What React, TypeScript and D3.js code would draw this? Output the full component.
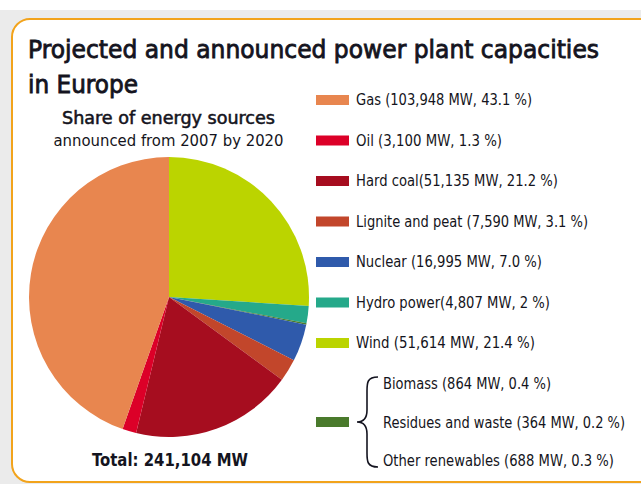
import React from "react";
import * as d3 from "d3";

// Slice order drawn clockwise from 12 o'clock
const sliceNames = ["Wind", "Hydro power", "Other renewables", "Nuclear", "Lignite and peat", "Hard coal", "Oil", "Gas"];
// Shares (%) as drawn in the reference pie
const sliceShares = [26.0, 2.0, 0.15, 4.3, 2.6, 18.7, 1.6, 44.6];
const sliceColors = ["#BBD400", "#25A98A", "#4A7A2C", "#2F5AAB", "#C2462B", "#A60D1F", "#DC0028", "#E8864F"];

// Legend
const legendNames = ["Gas", "Oil", "Hard coal", "Lignite and peat", "Nuclear", "Hydro power", "Wind"];
const legendLabels = [
  "Gas (103,948 MW, 43.1 %)",
  "Oil (3,100 MW, 1.3 %)",
  "Hard coal(51,135 MW, 21.2 %)",
  "Lignite and peat (7,590 MW, 3.1 %)",
  "Nuclear (16,995 MW, 7.0 %)",
  "Hydro power(4,807 MW, 2 %)",
  "Wind (51,614 MW, 21.4 %)",
];
const legendWidths = [176, 146, 202, 232, 186, 194, 179];
const renewLabels = [
  "Biomass (864 MW, 0.4 %)",
  "Residues and waste (364 MW, 0.2 %)",
  "Other renewables (688 MW, 0.3 %)",
];
const renewWidths = [168, 242, 231];

const titleLines = ["Projected and announced power plant capacities", "in Europe"];
const subtitle = "Share of energy sources";
const subtitle2 = "announced from 2007 by 2020";
const totalLabel = "Total: 241,104 MW";

const FONT = "'Liberation Sans Narrow', 'DejaVu Sans Condensed', 'Arial Narrow', 'Liberation Sans', sans-serif";
const TEXT = "#141420";

export default function App() {
  const W = 641, H = 484;
  const cx = 169, cy = 297, r = 140;
  const pie = d3.pie<number>().sort(null).value((d) => d);
  const arcs = pie(sliceShares);
  const arc = d3.arc<d3.PieArcDatum<number>>().innerRadius(0).outerRadius(r);

  const colorOf = (name: string) => sliceColors[sliceNames.indexOf(name)];
  const ly = d3.scalePoint<string>().domain(legendNames).range([100, 343]);
  const ry = d3.scalePoint<string>().domain(renewLabels).range([384, 461]);

  const bx = 378, btop = 377, bbot = 467, tipx = 357, tipy = 422, mx = 367;
  const brace = `M${bx},${btop} C${mx},${btop} ${mx},${btop + 6} ${mx},${btop + 14} L${mx},${tipy - 12} C${mx},${tipy - 4} ${mx - 4},${tipy} ${tipx},${tipy} C${mx - 4},${tipy} ${mx},${tipy + 4} ${mx},${tipy + 12} L${mx},${bbot - 14} C${mx},${bbot - 6} ${mx},${bbot} ${bx},${bbot}`;

  return (
    <svg width={W} height={H} style={{ position: "absolute", left: 0, top: 0, display: "block" }} fontFamily={FONT}>
      <rect x={0} y={0} width={W} height={H} fill="#ffffff" />
      <rect x={0} y={10} width={W} height={H - 10} fill="#ebebeb" />
      <rect x={12} y={19} width={660} height={463} rx={18} ry={18} fill="#ffffff" stroke="#F2A31B" strokeWidth={2} />

      <text x={28} y={57.5} fontSize={25.5} fill={TEXT} stroke={TEXT} strokeWidth={0.8} textLength={571} lengthAdjust="spacingAndGlyphs">{titleLines[0]}</text>
      <text x={28} y={93} fontSize={25.5} fill={TEXT} stroke={TEXT} strokeWidth={0.8} textLength={110} lengthAdjust="spacingAndGlyphs">{titleLines[1]}</text>

      <text x={62} y={124.3} fontSize={17.5} fill={TEXT} stroke={TEXT} strokeWidth={0.5} textLength={213} lengthAdjust="spacingAndGlyphs">{subtitle}</text>
      <text x={53.5} y={146} fontSize={16.5} fill={TEXT} textLength={230} lengthAdjust="spacingAndGlyphs">{subtitle2}</text>

      <g transform={`translate(${cx},${cy})`}>
        {arcs.map((a, i) => (
          <path key={sliceNames[i]} d={arc(a) || ""} fill={sliceColors[i]} />
        ))}
      </g>

      <text x={92} y={466} fontSize={18} fontWeight="bold" fill={TEXT} textLength={156} lengthAdjust="spacingAndGlyphs">{totalLabel}</text>

      {legendNames.map((n, i) => (
        <g key={n}>
          <rect x={316} y={(ly(n) as number) - 5} width={33} height={10} fill={colorOf(n)} />
          <text x={356} y={(ly(n) as number) + 5} fontSize={15} fill={TEXT} textLength={legendWidths[i]} lengthAdjust="spacingAndGlyphs">{legendLabels[i]}</text>
        </g>
      ))}

      <rect x={316} y={tipy - 5} width={33} height={10} fill={colorOf("Other renewables")} />
      <path d={brace} fill="none" stroke={TEXT} strokeWidth={1.6} />
      {renewLabels.map((t, i) => (
        <text key={t} x={383} y={(ry(t) as number) + 5} fontSize={15} fill={TEXT} textLength={renewWidths[i]} lengthAdjust="spacingAndGlyphs">{t}</text>
      ))}
    </svg>
  );
}
